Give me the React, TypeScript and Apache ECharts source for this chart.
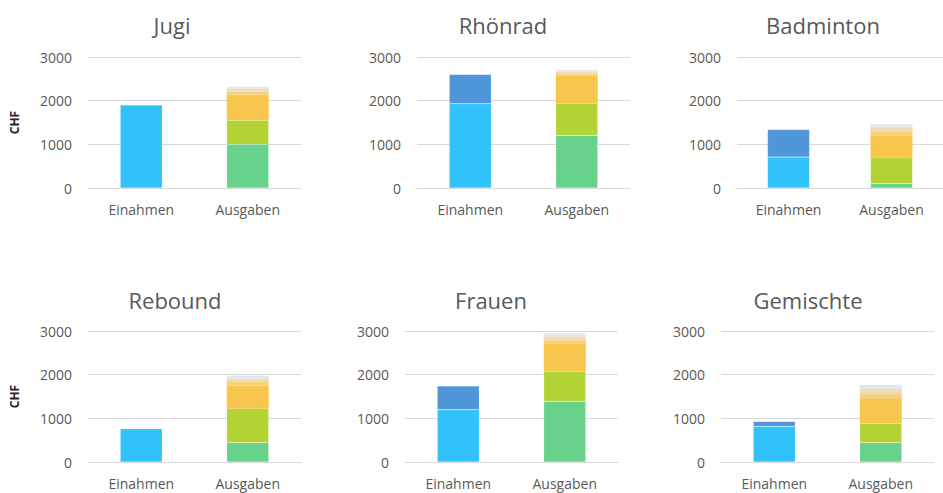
import React, { useEffect, useRef } from "react";
import * as echarts from "echarts";

const categories = ["Einahmen", "Ausgaben"];
const panelNames = ["Jugi", "Rhönrad", "Badminton", "Rebound", "Frauen", "Gemischte"];
const yTicks = [0, 1000, 2000, 3000];

// Einahmen (stacked)
const einLight = [1900, 1930, 710, 760, 1200, 820];
const einDark = [0, 670, 630, 0, 540, 110];

// Ausgaben (stacked)
const ausGreen = [1000, 1200, 100, 440, 1390, 440];
const ausLime = [550, 730, 610, 780, 690, 440];
const ausOrange = [590, 640, 500, 530, 620, 560];
const ausFade1 = [70, 50, 90, 80, 90, 120];
const ausFade2 = [60, 50, 90, 80, 90, 110];
const ausFade3 = [50, 40, 70, 65, 65, 95];

const gridsPx = [
  { left: 88, top: 57, width: 213, height: 131 },
  { left: 417, top: 57, width: 213, height: 131 },
  { left: 737, top: 57, width: 214, height: 131 },
  { left: 88, top: 331, width: 213, height: 131 },
  { left: 405, top: 331, width: 213, height: 131 },
  { left: 721, top: 331, width: 213, height: 131 },
];

const FONT = "'Open Sans', sans-serif";

export default function App() {
  const ref = useRef<HTMLDivElement>(null);
  useEffect(() => {
    if (!ref.current) return;
    const chart = echarts.init(ref.current, null, { renderer: "svg" });

    const grid: any[] = [];
    const xAxis: any[] = [];
    const yAxis: any[] = [];
    const series: any[] = [];
    const graphic: any[] = [];

    const einSeries = [
      { name: "Einahmen A", data: einLight, color: "#31c2fb", border: true },
      { name: "Einahmen B", data: einDark, color: "#4f95d9", border: true },
    ];
    const ausSeries = [
      { name: "Ausgaben A", data: ausGreen, color: "#67d28c", border: true },
      { name: "Ausgaben B", data: ausLime, color: "#b3d335", border: true },
      { name: "Ausgaben C", data: ausOrange, color: "#f8c64c", border: false },
      { name: "Ausgaben D", data: ausFade1, color: "#f5d17f", border: false },
      { name: "Ausgaben E", data: ausFade2, color: "#eedcb4", border: false },
      { name: "Ausgaben F", data: ausFade3, color: "#e0e8ea", border: false },
    ];

    panelNames.forEach((name, i) => {
      const g = gridsPx[i];
      grid.push({ ...g, containLabel: false });
      xAxis.push({
        type: "category",
        gridIndex: i,
        data: categories,
        axisLine: { show: true, lineStyle: { color: "#d9d9d9", width: 1 } },
        axisTick: { show: false },
        axisLabel: { color: "#595959", fontSize: 14, fontFamily: FONT, margin: 14 },
      });
      yAxis.push({
        type: "value",
        gridIndex: i,
        min: yTicks[0],
        max: yTicks[yTicks.length - 1],
        interval: 1000,
        axisLine: { show: false },
        axisTick: { show: false },
        splitLine: { lineStyle: { color: "#d9d9d9", width: 1 } },
        axisLabel: {
          color: "#595959",
          fontSize: 14,
          fontFamily: FONT,
          margin: 16,
          formatter: (v: number) => String(v),
        },
        name: i % 3 === 0 ? "CHF" : "",
        nameLocation: "middle",
        nameRotate: 90,
        nameGap: 68,
        nameTextStyle: { color: "#262626", fontSize: 12, fontWeight: "bold", fontFamily: FONT },
      });
      const stack = "s" + i;
      const mk = (s: any, data: any[]) => ({
        type: "bar",
        name: s.name,
        xAxisIndex: i,
        yAxisIndex: i,
        stack,
        barWidth: 42,
        data,
        itemStyle: s.border
          ? { color: s.color, borderColor: "rgba(255,255,255,0.3)", borderWidth: 0.5 }
          : { color: s.color, borderWidth: 0 },
      });
      einSeries.forEach((s) => series.push(mk(s, [s.data[i] || "-", "-"])));
      ausSeries.forEach((s) => series.push(mk(s, ["-", s.data[i] || "-"])));
      graphic.push({
        type: "text",
        x: [172, 503, 823, 175, 491, 808][i],
        y: i < 3 ? 25 : 300,
        style: {
          text: name,
          fill: "#595959",
          font: `22px ${FONT}`,
          textAlign: "center",
          textVerticalAlign: "middle",
        },
      });
    });

    chart.setOption({
      animation: false,
      backgroundColor: "#ffffff",
      grid,
      xAxis,
      yAxis,
      series,
      graphic,
    });
    return () => chart.dispose();
  }, []);
  return (
    <div
      ref={ref}
      style={{ position: "fixed", left: 0, top: 0, width: 943, height: 493 }}
    />
  );
}
